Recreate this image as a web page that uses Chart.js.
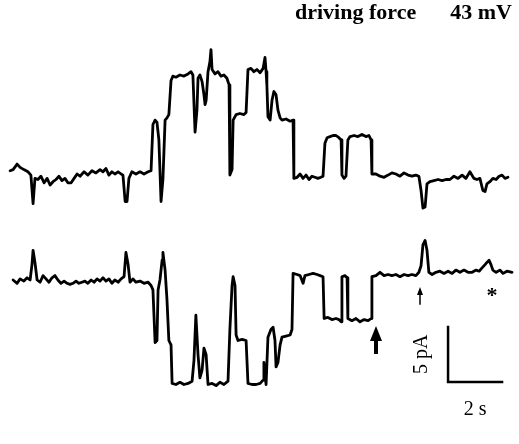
<!DOCTYPE html>
<html lang="en">
<head>
  <meta charset="UTF-8" />
  <title>Single channel recording</title>
  <script src="https://cdn.jsdelivr.net/npm/chart.js"></script>
  <style>
    body { margin: 0; background: #fff; }
    canvas { display: block; }
  </style>
</head>
<body>
  <canvas id="trace" width="519" height="444"></canvas>

  <script>
    // upper trace: time (s) and current (pA, openings up)
    const timeTop = [-0.07,0.04,0.19,0.30,0.44,0.59,0.70,0.78,0.85,0.96,1.07,1.19,1.30,1.41,1.52,1.63,1.74,1.85,1.96,2.07,2.19,2.30,2.41,2.52,2.67,2.81,2.96,3.11,3.26,3.37,3.48,3.59,3.70,3.81,3.93,4.04,4.11,4.19,4.26,4.33,4.44,4.59,4.74,4.89,5.04,5.15,5.22,5.30,5.37,5.44,5.52,5.59,5.67,5.74,5.81,5.89,5.96,6.07,6.22,6.37,6.52,6.63,6.70,6.78,6.85,6.89,6.96,7.04,7.11,7.15,7.19,7.26,7.33,7.37,7.41,7.52,7.63,7.74,7.85,7.96,8.04,8.07,8.15,8.19,8.30,8.44,8.59,8.67,8.74,8.85,8.96,9.07,9.19,9.30,9.37,9.41,9.44,9.48,9.56,9.63,9.70,9.78,9.85,9.93,10.00,10.15,10.30,10.41,10.44,10.56,10.67,10.78,10.89,11.00,11.11,11.22,11.33,11.44,11.52,11.59,11.67,11.78,11.89,12.00,12.11,12.19,12.22,12.30,12.37,12.44,12.52,12.67,12.81,12.96,13.11,13.22,13.30,13.33,13.48,13.63,13.78,13.93,14.07,14.22,14.37,14.52,14.67,14.81,14.96,15.07,15.15,15.22,15.30,15.37,15.48,15.63,15.78,15.93,16.07,16.22,16.37,16.52,16.67,16.81,16.96,17.11,17.22,17.33,17.44,17.52,17.59,17.70,17.81,17.93,18.04,18.15,18.26,18.37];
    const currentTop = [0.3,0.4,0.9,0.6,0.4,0.2,-0.1,-2.7,-0.4,-0.5,-0.2,-0.8,-0.4,-1.0,-0.7,-0.5,-0.2,-0.6,-0.4,-0.8,-0.8,-0.4,0,-0.2,0.2,-0.1,0.3,0.1,0.4,0.2,0.5,-0.1,0.2,0,0.2,0,-0.1,-2.5,-2.5,-0.4,0.2,0,0.2,0,0.2,0.3,4.5,4.9,4.7,3.1,-2.5,-0.5,4.9,5.1,5.4,8.5,8.9,8.8,9.0,8.9,9.1,9.3,9.0,3.8,5.8,8.7,9.0,8.4,7.2,6.3,6.7,9.3,10.2,11.3,9.5,9.1,9.3,8.9,9.0,8.7,8.1,-0.1,0.4,4.9,5.4,5.5,5.4,5.6,9.5,9.6,9.3,9.5,9.2,9.6,10.6,9.3,8.1,5.2,4.9,6.7,7.5,7.2,5.8,5.1,4.9,5.0,4.8,4.9,-0.4,-0.3,0,-0.4,-0.1,-0.5,-0.2,-0.3,-0.4,-0.3,-0.2,2.8,3.3,3.4,3.5,3.5,3.3,3.1,-0.1,-0.4,-0.2,3.1,3.4,3.5,3.4,3.6,3.4,3.5,3.1,0,0,-0.2,-0.3,-0.1,0.1,0,-0.2,0.1,-0.1,-0.2,-0.1,-0.2,-1.5,-3.1,-3.0,-0.9,-0.7,-0.6,-0.5,-0.6,-0.5,-0.5,-0.2,-0.4,-0.1,-0.4,0.2,-0.4,-0.5,-0.4,-1.5,-1.6,-0.9,-0.7,-0.4,-0.5,-0.2,-0.1,-0.4,-0.3];

    // lower trace: time (s) and current (pA, openings down)
    const timeBottom = [0.04,0.19,0.30,0.44,0.56,0.67,0.74,0.78,0.85,0.93,1.04,1.15,1.26,1.37,1.48,1.59,1.70,1.81,1.93,2.04,2.15,2.26,2.37,2.48,2.59,2.70,2.81,2.93,3.04,3.15,3.26,3.37,3.48,3.59,3.70,3.81,3.93,4.04,4.15,4.22,4.30,4.37,4.48,4.59,4.74,4.89,5.04,5.15,5.22,5.30,5.37,5.41,5.48,5.56,5.59,5.67,5.74,5.81,5.89,5.93,6.07,6.22,6.37,6.52,6.67,6.74,6.81,6.89,6.96,7.04,7.11,7.19,7.26,7.41,7.56,7.70,7.85,8.00,8.07,8.15,8.19,8.26,8.30,8.37,8.52,8.67,8.74,8.89,9.04,9.19,9.30,9.33,9.41,9.48,9.59,9.67,9.74,9.78,9.85,9.93,10.00,10.15,10.30,10.37,10.41,10.56,10.67,10.78,10.85,11.00,11.15,11.30,11.41,11.52,11.56,11.70,11.85,12.00,12.11,12.19,12.22,12.33,12.41,12.44,12.59,12.74,12.89,13.04,13.19,13.30,13.33,13.48,13.63,13.78,13.93,14.07,14.22,14.37,14.52,14.67,14.81,14.96,15.07,15.15,15.22,15.30,15.37,15.44,15.56,15.70,15.85,16.00,16.15,16.30,16.44,16.59,16.74,16.89,17.04,17.19,17.30,17.41,17.52,17.59,17.67,17.74,17.81,17.93,18.07,18.19,18.33,18.52];
    const currentBottom = [0,-0.3,0.1,-0.1,0.2,0,1.4,2.7,1.6,0,-0.2,0.4,0.1,-0.2,0.2,0.4,0,-0.3,-0.1,-0.3,-0.4,-0.3,-0.1,-0.3,-0.2,-0.1,-0.3,0,-0.2,0.1,-0.1,0.2,-0.1,0.1,-0.3,0,-0.2,0.1,0.3,2.5,1.4,-0.2,0.1,-0.2,-0.1,-0.3,-0.2,-0.5,-0.9,-5.7,-5.5,-0.9,0,1.8,2.5,0.9,-1.8,-5.5,-5.9,-9.4,-9.5,-9.3,-9.5,-9.4,-9.2,-7.3,-3.2,-6.8,-8.9,-8.2,-6.2,-6.8,-9.5,-9.4,-9.6,-9.3,-9.5,-9.2,-4.5,-0.5,0.3,-0.5,-5.0,-5.5,-5.4,-5.5,-9.4,-9.5,-9.5,-9.4,-9.1,-7.5,-9.5,-5.2,-4.5,-4.3,-5.5,-7.9,-7.5,-5.9,-5.2,-5.1,-5.0,-4.5,0.6,0.5,0.4,-0.3,0.4,0.5,0.6,0.5,0.4,0.3,-3.5,-3.4,-3.6,-3.5,-3.6,-3.8,0.3,0.4,0.2,-3.5,-3.7,-3.5,-3.8,-3.6,-3.7,-3.5,0.3,0.4,0.7,0.4,0.5,0.4,0.5,0.3,0.5,0.4,0.5,0.4,0.7,1.3,3.2,3.6,2.7,0.7,0.5,0.7,0.8,0.6,0.8,0.6,0.9,0.7,0.9,0.7,0.7,0.9,0.8,1.1,1.4,1.6,1.8,1.4,0.9,0.7,0.9,0.6,0.8,0.7];

    const titleText = "driving force";
    const voltageText = "43 mV";
    const barTime = 2;      // s
    const barCurrent = 5;   // pA

    // layout: 27 px per s, 11 px per pA
    const pxPerS = 27, pxPerPA = 11;
    const W = 519, H = 444;
    const xMin = -12 / pxPerS;
    const yMax = 174 / pxPerPA;
    const bottomOffset = -(280 - 174) / pxPerPA;

    const topPoints = timeTop.map((t, i) => ({ x: t, y: currentTop[i] }));
    const bottomPoints = timeBottom.map((t, i) => ({ x: t, y: currentBottom[i] + bottomOffset }));

    const annotations = {
      id: 'annotations',
      afterDraw(chart) {
        const ctx = chart.ctx;
        const xs = chart.scales.x, ys = chart.scales.y;
        ctx.save();
        ctx.fillStyle = '#000';
        ctx.strokeStyle = '#000';

        // heading
        ctx.font = 'bold 22px "Liberation Serif", serif';
        ctx.textBaseline = 'alphabetic';
        ctx.textAlign = 'left';
        ctx.fillText(titleText, 295, 19);
        ctx.textAlign = 'right';
        ctx.fillText(voltageText, 512, 19);

        // scale bar
        const x0 = xs.getPixelForValue(16.15);
        const x1 = xs.getPixelForValue(16.15 + barTime);
        const y0 = ys.getPixelForValue(-18.9);
        const y1 = ys.getPixelForValue(-18.9 + barCurrent);
        ctx.lineWidth = 2.5;
        ctx.lineCap = 'square';
        ctx.beginPath();
        ctx.moveTo(x0, y1);
        ctx.lineTo(x0, y0);
        ctx.lineTo(x1, y0);
        ctx.stroke();

        ctx.font = '20px "Liberation Serif", serif';
        ctx.textAlign = 'center';
        ctx.textBaseline = 'middle';
        ctx.fillText(barTime + ' s', (x0 + x1) / 2, y0 + 28);
        ctx.save();
        ctx.translate(x0 - 26, (y0 + y1) / 2);
        ctx.rotate(-Math.PI / 2);
        ctx.fillText(barCurrent + ' pA', 0, 0);
        ctx.restore();

        // small arrow
        ctx.lineWidth = 1.5;
        ctx.beginPath();
        ctx.moveTo(420, 304);
        ctx.lineTo(420, 292);
        ctx.stroke();
        ctx.beginPath();
        ctx.moveTo(420, 287);
        ctx.lineTo(417, 295);
        ctx.lineTo(423, 295);
        ctx.closePath();
        ctx.fill();

        // big arrow
        ctx.lineWidth = 4;
        ctx.beginPath();
        ctx.moveTo(376, 352);
        ctx.lineTo(376, 338);
        ctx.stroke();
        ctx.beginPath();
        ctx.moveTo(376, 326);
        ctx.lineTo(370, 341);
        ctx.lineTo(382, 341);
        ctx.closePath();
        ctx.fill();

        // asterisk
        ctx.font = 'bold 22px "Liberation Serif", serif';
        ctx.textBaseline = 'middle';
        ctx.fillText('*', 492, 296);
        ctx.restore();
      }
    };

    new Chart(document.getElementById('trace'), {
      type: 'line',
      data: {
        datasets: [
          { data: topPoints, borderColor: '#000', borderWidth: 2.8, pointRadius: 0, tension: 0, fill: false },
          { data: bottomPoints, borderColor: '#000', borderWidth: 2.8, pointRadius: 0, tension: 0, fill: false }
        ]
      },
      options: {
        responsive: false,
        animation: false,
        devicePixelRatio: 1,
        layout: { padding: 0 },
        plugins: { legend: { display: false }, tooltip: { enabled: false } },
        elements: { line: { borderJoinStyle: 'round', borderCapStyle: 'round' } },
        scales: {
          x: { type: 'linear', display: false, min: xMin, max: xMin + W / pxPerS },
          y: { type: 'linear', display: false, min: yMax - H / pxPerPA, max: yMax }
        }
      },
      plugins: [annotations]
    });
  </script>
</body>
</html>
